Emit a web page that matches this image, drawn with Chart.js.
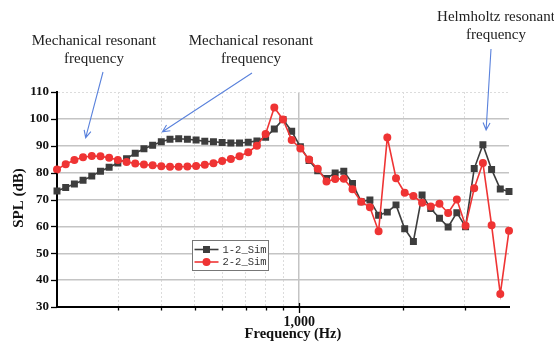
<!DOCTYPE html>
<html>
<head>
<meta charset="utf-8">
<script src="https://cdn.jsdelivr.net/npm/chart.js@4.4.0/dist/chart.umd.min.js"></script>
<style>
  body { margin: 0; background: #fff; }
</style>
</head>
<body>
<canvas id="splChart" width="554" height="343"></canvas>
<script>
// frequency points (Hz), 1/12 octave steps
const freqs = [
  200, 211.9, 224.5, 237.8, 252, 267, 282.8, 299.7, 317.5, 336.4,
  356.4, 377.6, 400, 423.8, 449, 475.7, 504, 534, 565.7, 599.3,
  635, 672.7, 712.7, 755.1, 800, 847.6, 898, 951.4, 1008, 1068,
  1131, 1199, 1270, 1345, 1425, 1510, 1600, 1695, 1796, 1903,
  2016, 2136, 2263, 2397, 2540, 2691, 2851, 3021, 3200, 3390,
  3592, 3805, 4032
];

// SPL (dB)
const sim12 = [
  73.2, 74.5, 75.8, 77.2, 78.7, 80.5, 82.0, 83.6, 85.2, 87.2,
  88.9, 90.2, 91.5, 92.4, 92.6, 92.4, 92.1, 91.7, 91.5, 91.2,
  91.0, 91.0, 91.3, 91.8, 93.2, 96.2, 99.8, 95.4, 89.6, 84.5,
  80.7, 77.8, 79.9, 80.5, 76.0, 69.2, 69.8, 64.1, 65.3, 68.0,
  59.1, 54.4, 71.7, 66.6, 63.0, 59.8, 65.1, 59.9, 81.5, 90.4,
  81.2, 73.9, 73.0
];
const sim22 = [
  81.2, 83.1, 84.7, 85.7, 86.2, 86.1, 85.5, 84.7, 84.0, 83.4,
  83.0, 82.7, 82.4, 82.2, 82.2, 82.3, 82.5, 82.9, 83.5, 84.3,
  85.1, 86.1, 87.6, 90.0, 94.4, 104.2, 99.8, 92.1, 89.0, 84.9,
  81.4, 76.7, 77.6, 77.7, 73.8, 69.2, 67.1, 58.2, 93.1, 77.9,
  72.5, 71.3, 68.8, 67.4, 68.4, 65.0, 70.0, 60.2, 74.2, 83.6,
  60.4, 34.8, 58.4
];

const xTicks = [300, 400, 500, 600, 700, 800, 900, 1000, 2000, 3000];
const xLabels = { 1000: '1,000' };
const yMin = 30, yMax = 110, yStep = 5;

// callouts: text lines, text centre, line start, arrow tip in data units
const callouts = [
  { lines: ['Mechanical resonant', 'frequency'], cx: 94, cy: 41, x0: 103, y0: 72, freq: 242, db: 93 },
  { lines: ['Mechanical resonant', 'frequency'], cx: 251, cy: 41, x0: 252, y0: 73, freq: 403, db: 95.2 },
  { lines: ['Helmholtz resonant', 'frequency'], cx: 496, cy: 17, x0: 491, y0: 49, freq: 3463, db: 95.9 }
];

Chart.defaults.font.family = '"Liberation Serif", serif';
Chart.defaults.color = '#111';

function arrow(ctx, x0, y0, x1, y1) {
  const a = Math.atan2(y1 - y0, x1 - x0);
  const h = 8;
  ctx.beginPath();
  ctx.moveTo(x0, y0);
  ctx.lineTo(x1, y1);
  ctx.moveTo(x1 - h * Math.cos(a - 0.45), y1 - h * Math.sin(a - 0.45));
  ctx.lineTo(x1, y1);
  ctx.lineTo(x1 - h * Math.cos(a + 0.45), y1 - h * Math.sin(a + 0.45));
  ctx.stroke();
}

const decor = {
  id: 'decor',
  afterDraw(chart) {
    const { ctx, chartArea: area, scales: { x, y } } = chart;
    ctx.save();

    // axis tick marks
    ctx.strokeStyle = '#000';
    ctx.lineWidth = 1.3;
    y.ticks.forEach(t => {
      const py = Math.round(y.getPixelForValue(t.value)) + 0.5;
      const len = t.value % 10 === 0 ? 6 : 3.5;
      ctx.beginPath();
      ctx.moveTo(area.left - len, py);
      ctx.lineTo(area.left, py);
      ctx.stroke();
    });
    x.ticks.forEach(t => {
      const px = Math.round(x.getPixelForValue(t.value)) + 0.5;
      const major = xLabels[t.value] !== undefined;
      ctx.beginPath();
      ctx.moveTo(px, area.bottom - (major ? 4 : 0));
      ctx.lineTo(px, area.bottom + (major ? 6 : 3.5));
      ctx.stroke();
    });

    // axis titles
    ctx.fillStyle = '#111';
    ctx.font = 'bold 14.5px "Liberation Serif"';
    ctx.textAlign = 'center';
    ctx.textBaseline = 'middle';
    ctx.fillText('Frequency (Hz)', 293, 334);
    ctx.save();
    ctx.translate(19, 198);
    ctx.rotate(-Math.PI / 2);
    ctx.font = 'bold 15px "Liberation Serif"';
    ctx.fillText('SPL (dB)', 0, 0);
    ctx.restore();

    // callouts
    ctx.font = '15px "Liberation Serif"';
    ctx.fillStyle = '#222';
    callouts.forEach(c => {
      c.lines.forEach((s, i) => ctx.fillText(s, c.cx, c.cy + i * 18.5));
    });
    ctx.strokeStyle = '#5a82dc';
    ctx.lineWidth = 1.1;
    callouts.forEach(c => {
      arrow(ctx, c.x0, c.y0, x.getPixelForValue(c.freq), y.getPixelForValue(c.db));
    });

    // legend box
    const lx = 192.5, ly = 240.5;
    ctx.fillStyle = '#fff';
    ctx.fillRect(lx, ly, 76, 30);
    ctx.strokeStyle = '#777';
    ctx.lineWidth = 1;
    ctx.strokeRect(lx, ly, 76, 30);
    ctx.font = '10.5px "Liberation Mono", monospace';
    ctx.textAlign = 'left';
    chart.data.datasets.forEach((ds, i) => {
      const ry = ly + 9 + i * 12.5;
      ctx.strokeStyle = ds.borderColor;
      ctx.lineWidth = 1.6;
      ctx.beginPath();
      ctx.moveTo(lx + 2, ry);
      ctx.lineTo(lx + 26, ry);
      ctx.stroke();
      Chart.helpers.drawPoint(ctx, {
        pointStyle: ds.pointStyle, radius: ds.pointRadius, borderWidth: 1, rotation: 0
      }, lx + 14, ry);
      ctx.fillStyle = ds.pointBackgroundColor;
      ctx.strokeStyle = ds.borderColor;
      ctx.fill();
      ctx.fillStyle = '#333';
      ctx.fillText(ds.label, lx + 30, ry + 0.5);
    });

    ctx.restore();
  }
};

new Chart(document.getElementById('splChart'), {
  type: 'line',
  data: {
    labels: freqs,
    datasets: [
      {
        label: '1-2_Sim',
        data: freqs.map((f, i) => ({ x: f, y: sim12[i] })),
        borderColor: '#3d3d3d',
        backgroundColor: '#3d3d3d',
        pointBackgroundColor: '#3d3d3d',
        pointBorderColor: '#3d3d3d',
        pointStyle: 'rect',
        pointRadius: 3.8,
        borderWidth: 1.6,
        order: 1,
        clip: false
      },
      {
        label: '2-2_Sim',
        data: freqs.map((f, i) => ({ x: f, y: sim22[i] })),
        borderColor: '#ef3434',
        backgroundColor: '#ef3434',
        pointBackgroundColor: '#ef3434',
        pointBorderColor: '#ef3434',
        pointStyle: 'circle',
        pointRadius: 3.2,
        borderWidth: 1.6,
        order: 0,
        clip: false
      }
    ]
  },
  options: {
    responsive: false,
    animation: false,
    layout: { padding: { top: 92, right: 45, left: 0, bottom: 0 } },
    plugins: { legend: { display: false }, tooltip: { enabled: false } },
    scales: {
      x: {
        type: 'logarithmic',
        min: 200,
        max: 4032,
        afterBuildTicks: s => { s.ticks = xTicks.map(v => ({ value: v })); },
        afterFit: s => { s.height = 36; },
        ticks: {
          autoSkip: false,
          maxRotation: 0,
          padding: 7,
          font: { size: 14, weight: 'bold' },
          callback: v => xLabels[v] || ''
        },
        grid: {
          drawTicks: false,
          color: c => (c.tick && xLabels[c.tick.value]) ? '#c4c4c4' : '#dcdcdc',
          lineWidth: c => (c.tick && xLabels[c.tick.value]) ? 1.5 : 1
        },
        border: {
          color: '#000',
          width: 2,
          dash: c => (c.tick && xLabels[c.tick.value]) ? [] : [2, 2]
        }
      },
      y: {
        min: yMin,
        max: yMax,
        afterFit: s => { s.width = 57; },
        ticks: {
          stepSize: yStep,
          padding: 8,
          font: { size: 13, weight: 'bold' },
          callback: v => v % 10 === 0 ? String(v) : ''
        },
        grid: {
          drawTicks: false,
          color: c => (c.tick && c.tick.value % 10 === 0 && c.tick.value < yMax) ? '#c4c4c4' : '#dcdcdc',
          lineWidth: c => (c.tick && c.tick.value % 10 === 0 && c.tick.value < yMax) ? 1.5 : 1
        },
        border: {
          color: '#000',
          width: 2,
          dash: c => (c.tick && c.tick.value % 10 === 0 && c.tick.value < yMax) ? [] : [2, 2]
        }
      }
    }
  },
  plugins: [decor]
});
</script>
</body>
</html>
